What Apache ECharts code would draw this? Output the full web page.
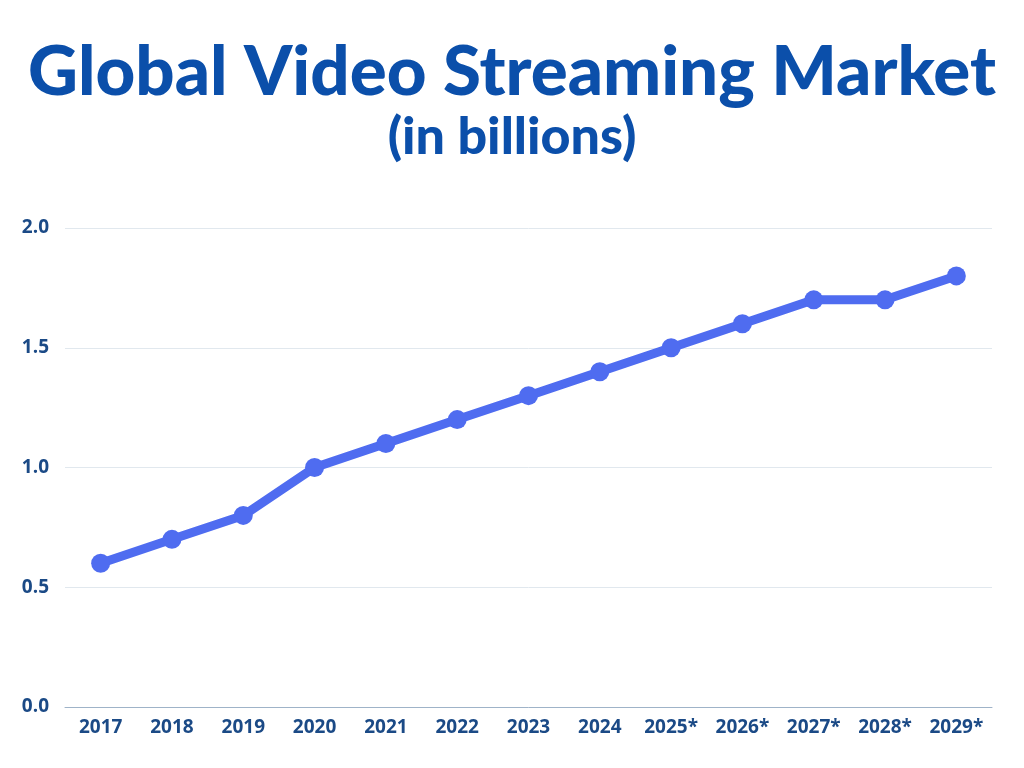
<!DOCTYPE html>
<html><head><meta charset="utf-8">
<script src="https://cdn.jsdelivr.net/npm/echarts@6/dist/echarts.min.js"></script>
<style>html,body{margin:0;padding:0;background:#fff}#c{width:1024px;height:768px}</style>
</head><body><div id="c"></div>
<script>
const categories = ['2017','2018','2019','2020','2021','2022','2023','2024','2025*','2026*','2027*','2028*','2029*'];
const marketValues = [0.6,0.7,0.8,1.0,1.1,1.2,1.3,1.4,1.5,1.6,1.7,1.7,1.8];
const yTicks = {min:0, max:2, interval:0.5};
const chart = echarts.init(document.getElementById('c'));
chart.setOption({
  backgroundColor:'#ffffff',
  animation:false,
  title:[
    {text:'Global Video Streaming Market', left:'center', top:33,
     textStyle:{fontFamily:'Lato', fontWeight:900, fontSize:69, color:'#0b4faa'}},
    {text:'(in billions)', left:'center', top:106,
     textStyle:{fontFamily:'Lato', fontWeight:900, fontSize:52, color:'#0b4faa'}}
  ],
  grid:{left:65, right:32, top:228, bottom:61, containLabel:false},
  xAxis:{type:'category', data:categories, boundaryGap:true,
    axisLine:{lineStyle:{color:'#9fb3c8', width:1}}, axisTick:{show:false},
    axisLabel:{margin:11, fontFamily:'Open Sans', fontWeight:'bold', fontSize:19, color:'#1b4a86'}},
  yAxis:{type:'value', min:yTicks.min, max:yTicks.max, interval:yTicks.interval,
    axisLine:{show:false}, axisTick:{show:false},
    splitLine:{lineStyle:{color:'#e1e8ee', width:1}},
    axisLabel:{margin:16, fontFamily:'Open Sans', fontWeight:'bold', fontSize:19, color:'#1b4a86',
      formatter:v=>v.toFixed(1)}},
  series:[{type:'line', data:marketValues, symbol:'circle', symbolSize:19,
    lineStyle:{width:9, color:'#4f6cf0'}, itemStyle:{color:'#4f6cf0'}}]
});
</script></body></html>
